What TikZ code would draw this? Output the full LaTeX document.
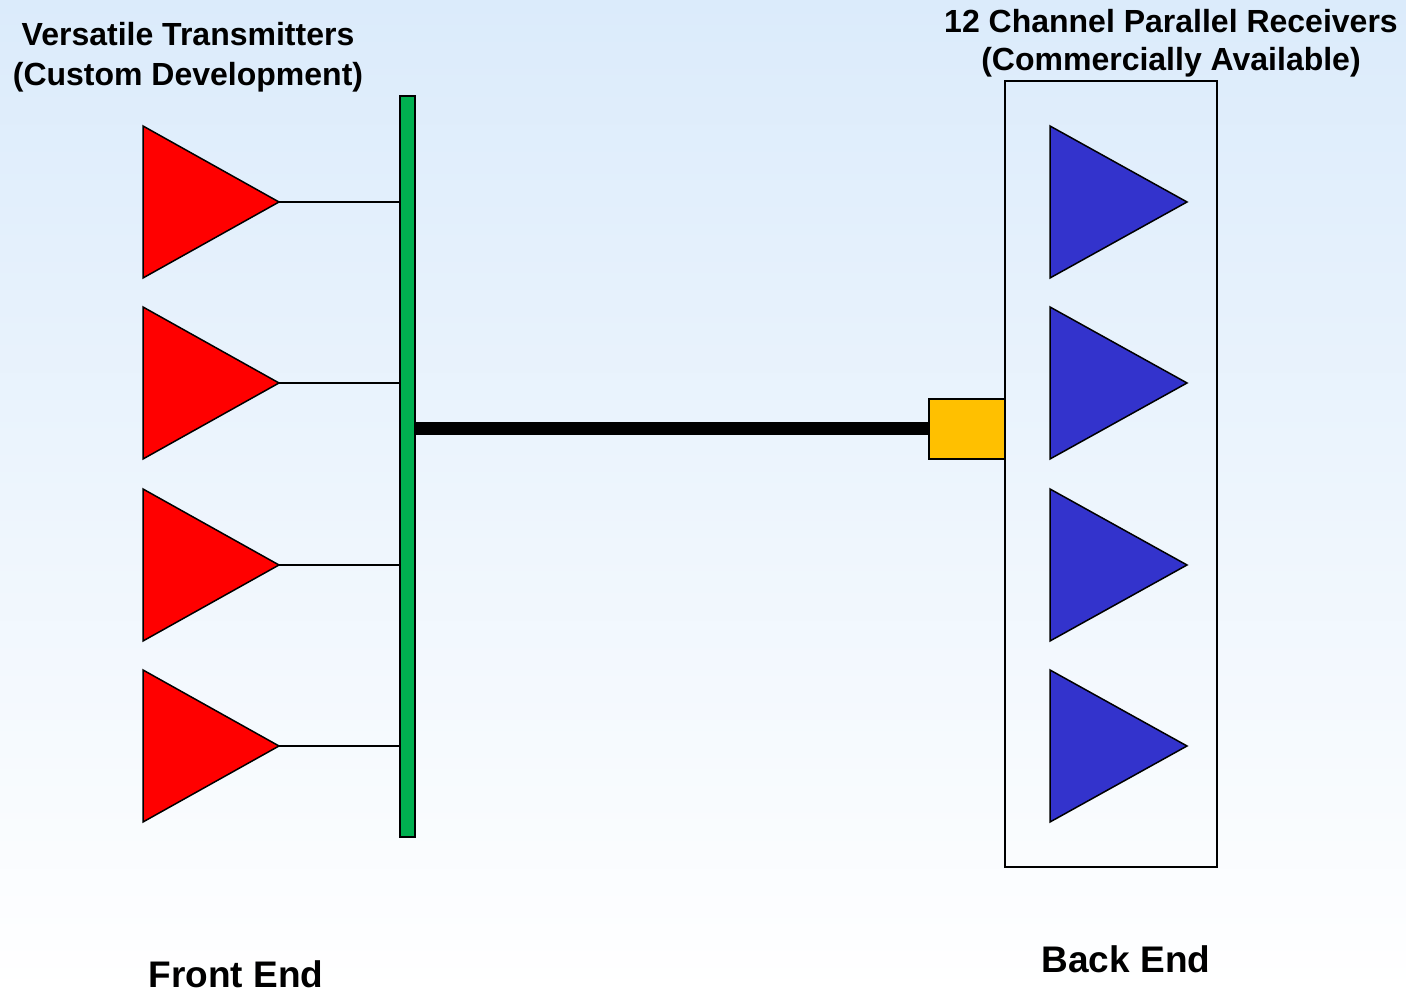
\documentclass[tikz,border=0pt]{standalone}
\usepackage{fontspec}
\setmainfont{Liberation Sans}
\definecolor{bgtop}{RGB}{219,235,251}
\definecolor{txred}{RGB}{255,0,0}
\definecolor{rxblue}{RGB}{51,51,204}
\definecolor{bargreen}{RGB}{0,176,80}
\definecolor{connyellow}{RGB}{255,192,0}
\begin{document}
\begin{tikzpicture}[x=1pt,y=1pt,
  amp/.style={draw=black,line width=1.5pt,line join=miter},
  txamp/.style={amp,fill=txred},
  rxamp/.style={amp,fill=rxblue},
  title/.style={font=\fontsize{32}{38}\selectfont\bfseries,anchor=base,inner sep=0pt},
  endlabel/.style={font=\fontsize{37}{43}\selectfont\bfseries,anchor=base,inner sep=0pt},
  thin/.style={draw=black,line width=1.3pt}]
\useasboundingbox (0,0) rectangle (1406,992);
\shade[top color=bgtop,bottom color=white] (0,0) rectangle (1406,992);
% receiver box
\node[draw=black,line width=1.5pt,minimum width=212,minimum height=786,inner sep=0pt] (rxbox) at (1111,518) {};
% green bar
\node[draw=black,line width=1.2pt,fill=bargreen,minimum width=15,minimum height=741,inner sep=0pt] (bar) at (407.5,525.5) {};
% yellow connector
\node[draw=black,line width=1.5pt,fill=connyellow,minimum width=76,minimum height=60,inner sep=0pt] (conn) at (967,563) {};
% thick fibre
\coordinate (fstart) at (415,563);
\draw[line width=13pt] (fstart -| bar.east) -- (conn.west);
% transmitters and receivers
\foreach \c [count=\i] in {790,609,427,246} {
  \draw[txamp] (143,\c+76) -- (279,\c) coordinate (tx\i) -- (143,\c-76) -- cycle;
  \draw[thin] (tx\i) -- (tx\i -| bar.west);
  \draw[rxamp] (1050,\c+76) -- (1187,\c) coordinate (rx\i) -- (1050,\c-76) -- cycle;
}
% labels
\node[title] (t1) at (188,946) {Versatile Transmitters};
\node[title] (t2) at (188,906) {(Custom Development)};
\node[title] (r1) at (1171,959) {12 Channel Parallel Receivers};
\node[title] (r2) at (1171,921) {(Commercially Available)};
\node[endlabel] (fe) at (236,4) {Front End};
\node[endlabel] (be) at (1126,19) {Back End};
\end{tikzpicture}
\end{document}
